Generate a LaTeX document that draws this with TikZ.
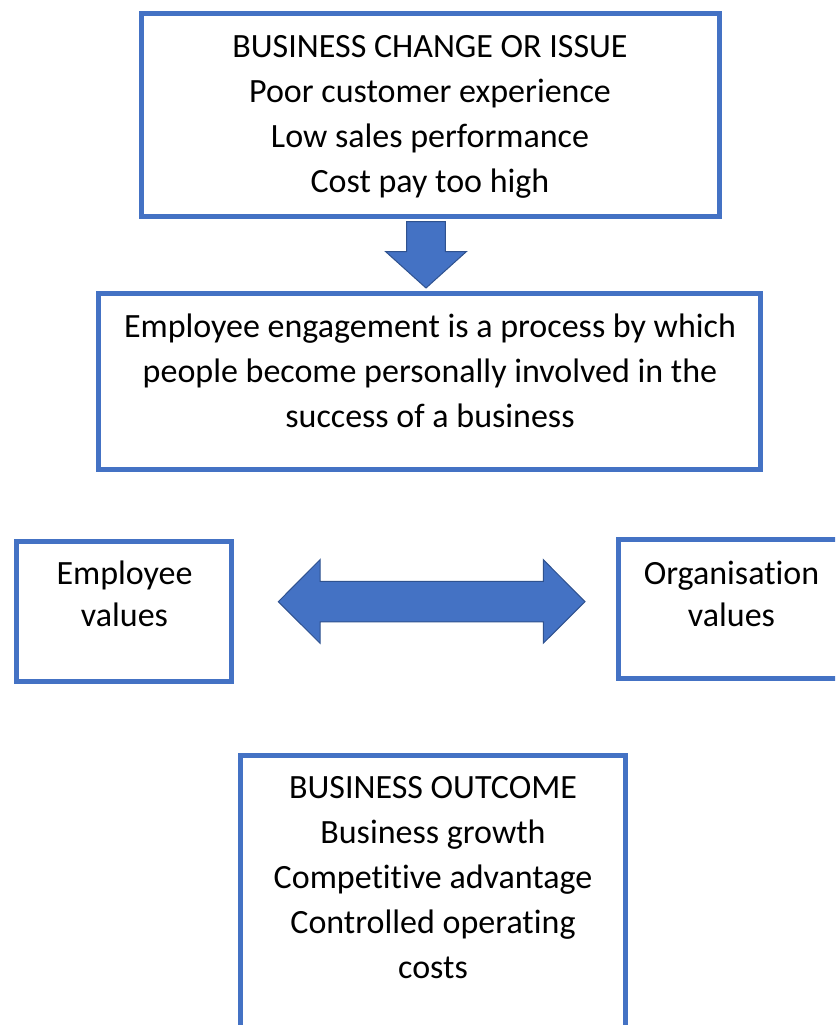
\documentclass[tikz,border=0pt]{standalone}
\usepackage{fontspec}
\setmainfont[Ligatures={NoCommon}]{Carlito}
\usetikzlibrary{calc}
\definecolor{boxblue}{HTML}{4472C4}
\definecolor{arrowedge}{HTML}{2F528F}
\begin{document}
\begin{tikzpicture}[x=1pt,y=-1pt,
  box/.style={draw=boxblue, line width=5pt, fill=white, inner sep=0pt},
  boxtext/.style={inner sep=0pt, outer sep=0pt, align=center, anchor=north,
    font=\fontsize{34}{45}\selectfont},
  shorttext/.style={boxtext, font=\fontsize{34}{42.5}\selectfont},
  blockarrow/.style={fill=boxblue, draw=arrowedge, line width=1pt, line join=miter}]
\useasboundingbox (0,0) rectangle (835,1025);
\clip (0,0) rectangle (835,1025);

% boxes
\node[box, minimum width=578pt, minimum height=203pt] (issue) at (430,115) {};
\node[box, minimum width=662.5pt, minimum height=176pt] (engage) at (429.25,381) {};
\node[box, minimum width=214.7pt, minimum height=140pt] (empval) at (123.7,611) {};
\node[box, minimum width=227pt, minimum height=139pt] (orgval) at (731.5,609) {};
\node[box, minimum width=385.5pt, minimum height=304.5pt] (outcome) at (432.75,907.75) {};

% box texts (first line baseline sits 30pt below the node top)
\node[boxtext] (issueText) at (430,27.5)
  {\rule{0pt}{30pt}BUSINESS CHANGE OR ISSUE\\Poor customer experience\\Low sales performance\\Cost pay too high};
\node[boxtext] (engageText) at (430,307)
  {\rule{0pt}{30pt}Employee engagement is a process by which\\people become personally involved in the\\success of a business};
\node[shorttext] (empText) at (124.5,554) {\rule{0pt}{30pt}Employee\\values};
\node[shorttext] (orgText) at (731.5,554) {\rule{0pt}{30pt}Organisation\\values};
\node[boxtext] (outText) at (433,768.5)
  {\rule{0pt}{30pt}BUSINESS OUTCOME\\Business growth\\Competitive advantage\\Controlled operating\\costs};

% block arrow from the issue box down to the engagement box
\coordinate (ax) at (426,0);
\coordinate (dTop) at ([yshift=-2.5pt]ax |- issue.south);
\coordinate (dTip) at ([yshift=2.5pt]ax |- engage.north);
\draw[blockarrow] ($(dTop)+(-19.3,0)$) -- ($(dTip)+(-19.3,-36.5)$)
  -- ($(dTip)+(-40.5,-36.5)$) -- (dTip) -- ($(dTip)+(40.5,-36.5)$)
  -- ($(dTip)+(19.3,-36.5)$) -- ($(dTop)+(19.3,0)$) -- cycle;

% double-headed block arrow between the two value boxes
\coordinate (lTip) at (278.3,601.7);
\coordinate (rTip) at (585,601.7);
\draw[blockarrow] (lTip) -- ($(lTip)+(41.7,-42)$) -- ($(lTip)+(41.7,-20.4)$)
  -- ($(rTip)+(-41.7,-20.4)$) -- ($(rTip)+(-41.7,-42)$) -- (rTip)
  -- ($(rTip)+(-41.7,41.5)$) -- ($(rTip)+(-41.7,20.2)$)
  -- ($(lTip)+(41.7,20.2)$) -- ($(lTip)+(41.7,41.5)$) -- cycle;
\end{tikzpicture}
\end{document}
